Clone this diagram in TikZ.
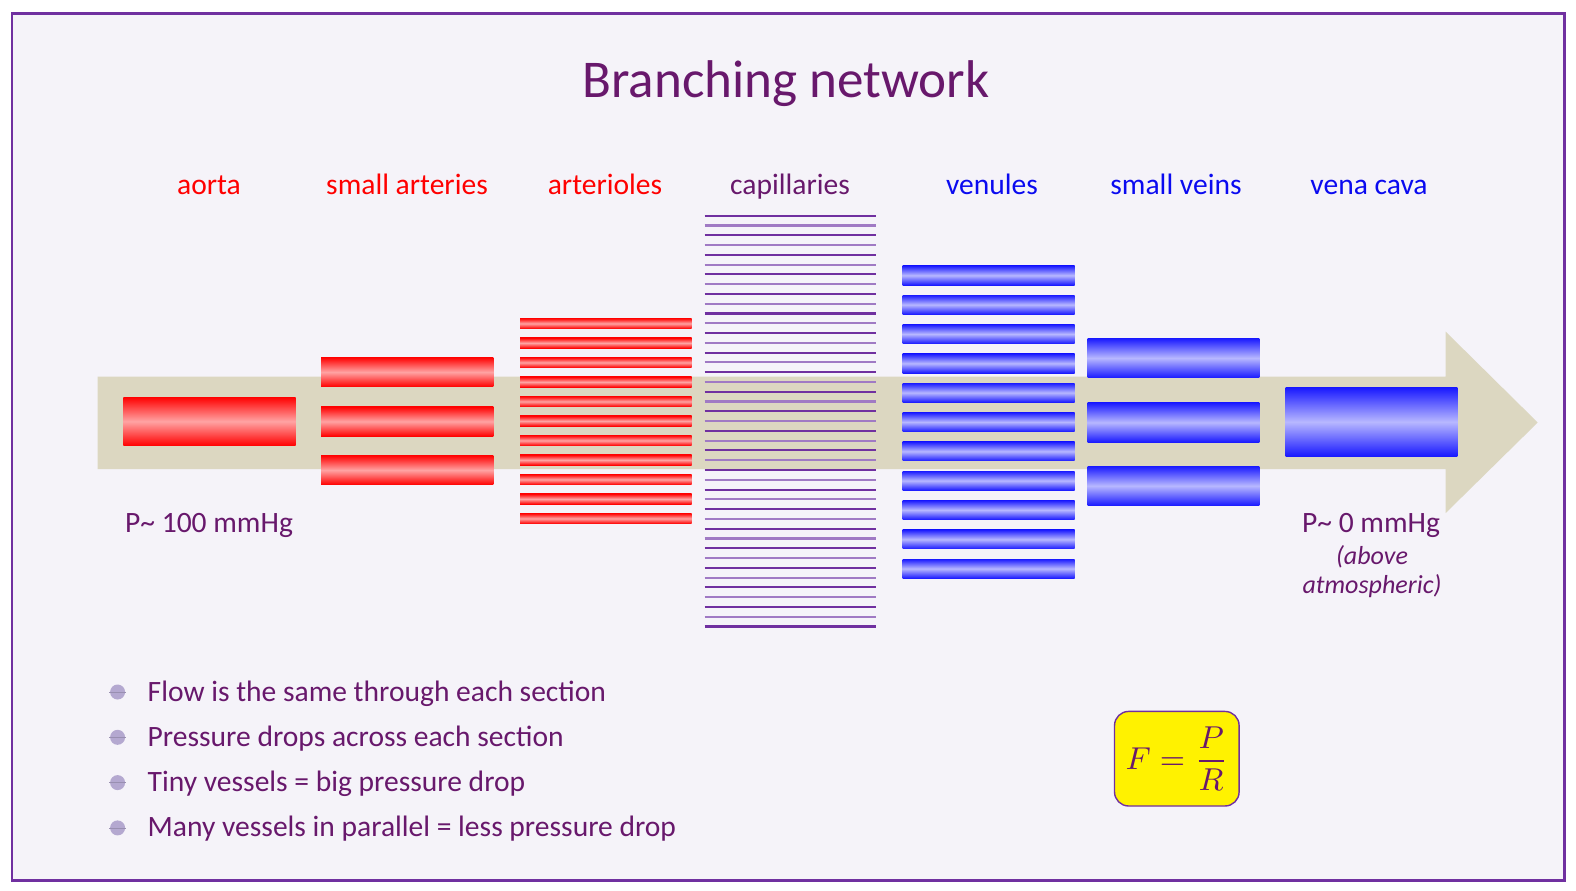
\documentclass[tikz,border=0pt]{standalone}
\usepackage{amsmath}
\usepackage{fontspec}
\setmainfont{Carlito}
\usetikzlibrary{calc}
\definecolor{slidebg}{RGB}{245,243,249}
\definecolor{framepurple}{RGB}{112,48,160}
\definecolor{textpurple}{RGB}{104,24,108}
\definecolor{shaftbeige}{RGB}{220,215,193}
\definecolor{capdark}{RGB}{112,48,160}
\definecolor{caplight}{RGB}{160,122,196}
\definecolor{dotgrey}{RGB}{180,168,208}
\definecolor{labred}{RGB}{255,0,0}
\definecolor{labblue}{RGB}{10,10,240}
\tikzstyle{arttube}=[top color=red, bottom color=red, middle color=red!36]
\tikzstyle{veintube}=[top color=blue!90, bottom color=blue!90, middle color=blue!28]
\tikzstyle{vlabel}=[anchor=base, inner sep=0pt, font=\fontsize{8.4}{10}\selectfont]
\tikzstyle{note}=[vlabel, text=textpurple, font=\fontsize{7.4}{9}\selectfont\itshape]
\tikzstyle{point}=[anchor=base west, inner sep=0pt, text=textpurple, font=\fontsize{8.4}{10}\selectfont]
\tikzstyle{dot}=[circle, fill=dotgrey, inner sep=0pt, minimum size=0.15cm]
\tikzstyle{law}=[draw=framepurple, line width=0.4pt, fill=yellow, rounded corners=4pt, inner sep=1pt,
  minimum width=1.245cm, minimum height=0.945cm, text=textpurple]

\begin{document}
\begin{tikzpicture}[x=0.01cm,y=-0.01cm]
      \useasboundingbox (0,0) rectangle (1576,890);
      \fill[white] (0,0) rectangle (1576,890);
      \draw[framepurple, fill=slidebg, line width=0.85pt] (12,13.5) rectangle (1564,880);

      % flow arrow
      \fill[shaftbeige] (97.7,376.7) -- (1445.7,376.7) -- (1445.7,331.7) -- (1537.7,422.5)
        -- (1445.7,513) -- (1445.7,469) -- (97.7,469) -- cycle;

      \node[text=textpurple, anchor=base, font=\fontsize{15.1}{18}\selectfont] (title) at (786,97.5) {Branching network};

      \node[vlabel, text=labred] (aorta) at (209,194) {aorta};
      \node[vlabel, text=labred] (arteries) at (407,194) {small arteries};
      \node[vlabel, text=labred] (arterioles) at (605,194) {arterioles};
      \node[vlabel, text=textpurple] (capillaries) at (790,194) {capillaries};
      \node[vlabel, text=labblue] (venules) at (992,194) {venules};
      \node[vlabel, text=labblue] (veins) at (1176,194) {small veins};
      \node[vlabel, text=labblue] (cava) at (1369,194) {vena cava};

      % vessels
      \shade[arttube] (123.3,397) rectangle (295.7,445.7);
      \foreach \y in {357.3,406.7,455.3}
        \shade[arttube] (321,\y) rectangle (493.3,\y+29.5);
      \foreach \k in {0,...,10}
        \shade[arttube] (520,318.3+19.5*\k) rectangle (691.7,328.6+19.5*\k);
      \foreach \k in {0,...,42}{
        \ifodd\k \def\capcol{caplight}\else \def\capcol{capdark}\fi
        \draw[\capcol, line width=0.6pt] (704.7,215.7+9.78*\k) -- (876,215.7+9.78*\k);
      }
      \foreach \k in {0,...,10}
        \shade[veintube] (902.7,265.7+29.33*\k) rectangle (1074.7,285+29.33*\k);
      \foreach \y in {338.3,402.7,466}
        \shade[veintube] (1087.7,\y) rectangle (1259.3,\y+39.5);
      \shade[veintube] (1285.7,387.7) rectangle (1457.3,456);

      \node[vlabel, text=textpurple] (pin) at (209,532.6) {P\textasciitilde{} 100 mmHg};
      \node[vlabel, text=textpurple] (pout) at (1371,532.6) {P\textasciitilde{} 0 mmHg};
      \node[note] (above) at (1372,564) {(above};
      \node[note] (atm) at (1372,593) {atmospheric)};

      % summary points
      \foreach \txt [count=\i] in {Flow is the same through each section,
          Pressure drops across each section,
          Tiny vessels = big pressure drop,
          Many vessels in parallel = less pressure drop}{
        \node[dot] (dot\i) at (117.6,{692+45.3*(\i-1)}) {};
        \draw[dotgrey!85!black, line width=0.2pt] (dot\i.west) -- (dot\i.east);
        \node[point] (pt\i) at (147,{701+45.3*(\i-1)}) {\txt};
      }

      \node[law, font=\fontsize{9}{11}\selectfont] (flowlaw) at (1176.8,758.7) {$F=\dfrac{P}{R}$};
\end{tikzpicture}
\end{document}
